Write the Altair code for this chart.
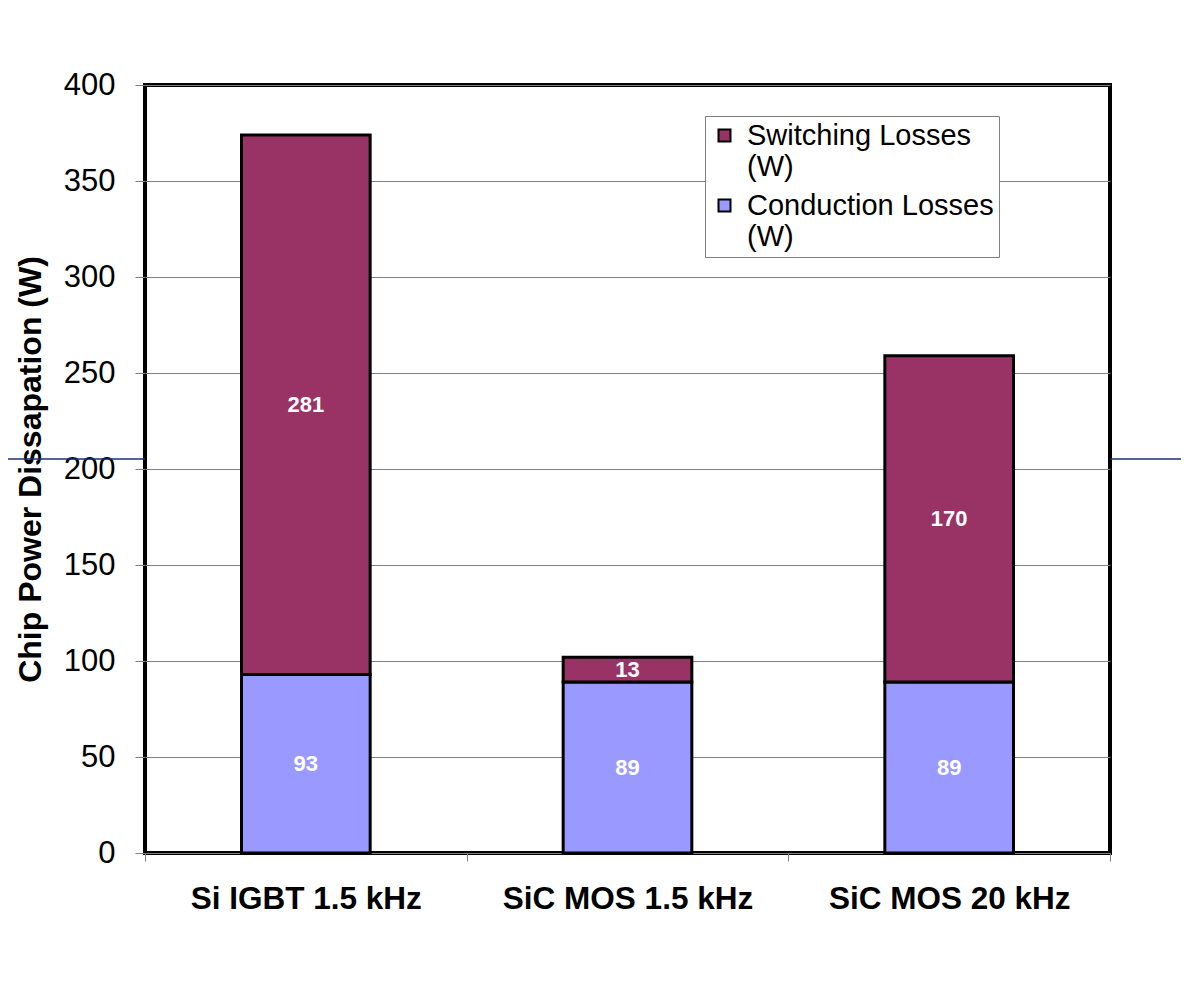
import altair as alt
import pandas as pd

categories = ["Si IGBT 1.5 kHz", "SiC MOS 1.5 kHz", "SiC MOS 20 kHz"]
switching = [281, 13, 170]
conduction = [93, 89, 89]
series = ["Switching Losses (W)", "Conduction Losses (W)"]
colors = ["#993366", "#9999FF"]
y_ticks = [0, 50, 100, 150, 200, 250, 300, 350, 400]

FONT = "Liberation Sans"

rows = []
for c, s, k in zip(categories, switching, conduction):
    rows.append({"cat": c, "series": series[1], "value": k, "ord": 0})
    rows.append({"cat": c, "series": series[0], "value": s, "ord": 1})
df = pd.DataFrame(rows)

base = alt.Chart(df).transform_stack(
    stack="value", groupby=["cat"], as_=["y0", "y1"],
    sort=[alt.SortField("ord", order="ascending")]
).transform_calculate(mid="(datum.y0 + datum.y1) / 2")

x_scale = alt.Scale(paddingInner=0, paddingOuter=0)

x_enc = alt.X(
    "cat:N", sort=categories, scale=x_scale,
    axis=alt.Axis(
        title=None, labelFont=FONT, labelFontSize=31.5, labelFontWeight="bold",
        labelColor="black", labelAngle=0, labelLimit=500, labelOverlap=False,
        tickBand="extent", ticks=True, tickSize=8, tickColor="#808080",
        labelPadding=22, domain=False, grid=False,
    ),
)

y_scale = alt.Scale(domain=[0, 400], nice=False)

bars = base.mark_bar(
    stroke="black", strokeWidth=3, width=alt.RelativeBandSize(0.4)
).encode(
    x=x_enc,
    y=alt.Y(
        "y0:Q", scale=y_scale,
        axis=alt.Axis(
            values=y_ticks, title="Chip Power Dissapation (W)",
            titleFont=FONT, titleFontSize=32, titleFontWeight="bold", titleColor="black",
            titleX=-115, titleY=384, titleAngle=270, titleAlign="center", titleBaseline="middle",
            labelFont=FONT, labelFontSize=31, labelColor="black", labelPadding=20,
            tickSize=10, tickColor="#808080", domain=False,
            grid=True, gridColor="#808080", gridWidth=1,
        ),
    ),
    y2="y1:Q",
    color=alt.Color(
        "series:N",
        scale=alt.Scale(domain=series, range=colors),
        legend=alt.Legend(
            orient="none", legendX=560, legendY=31, title=None,
            labelExpr="[replace(datum.label, ' (W)', ''), '(W)']",
            labelFont=FONT, labelFontSize=29, labelColor="black", labelLimit=500,
            labelOffset=8,
            symbolType="square", symbolSize=144, symbolStrokeColor="black",
            symbolStrokeWidth=2,
            strokeColor="#808080", fillColor="white", padding=5, rowPadding=9,
        ),
    ),
)

labels = base.mark_text(
    color="white", font=FONT, fontSize=22, fontWeight="bold", baseline="middle"
).encode(
    x=alt.X("cat:N", sort=categories, scale=x_scale),
    y=alt.Y("mid:Q", scale=y_scale),
    text=alt.Text("value:Q"),
)

deco_df = pd.DataFrame({"d": [0]})
deco_left = alt.Chart(deco_df).mark_rule(color="#1A2F6E", strokeWidth=1.5).encode(
    x=alt.value(-138), x2=alt.value(0), y=alt.value(374)
)
deco_right = alt.Chart(deco_df).mark_rule(color="#1A2F6E", strokeWidth=1.5).encode(
    x=alt.value(965), x2=alt.value(1036), y=alt.value(374)
)

chart = alt.layer(deco_left, deco_right, bars, labels).properties(
    width=965, height=768,
    autosize=alt.AutoSizeParams(type="none"),
    padding={"left": 137, "top": 77, "right": 71, "bottom": 133},
    background="white",
).configure_view(
    stroke="black", strokeWidth=4, fill="white"
)

chart.save("out.html", embed_options={"renderer": "svg", "actions": False})
